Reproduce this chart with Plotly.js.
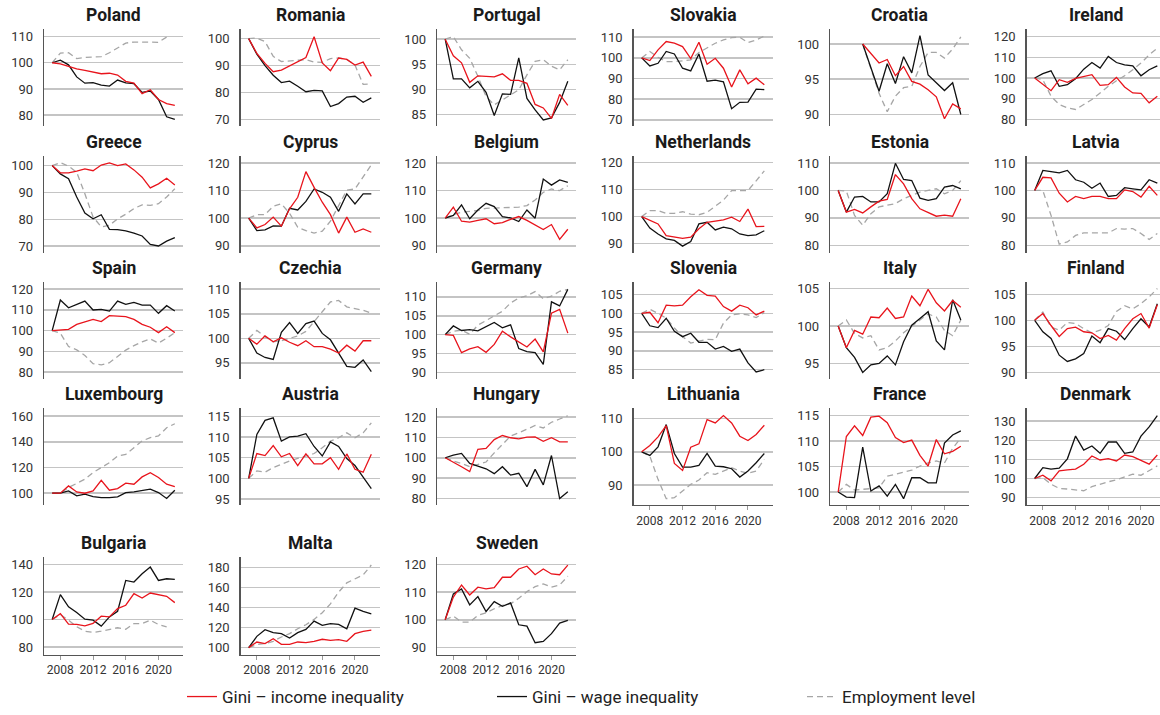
<!DOCTYPE html>
<html><head><meta charset="utf-8">
<script src="https://cdn.plot.ly/plotly-3.0.1.min.js"></script>
<style>html,body{margin:0;padding:0;background:#fff}#chart{width:1160px;height:715px}</style>
</head><body><div id="chart"></div>
<script>
const years = [2007,2008,2009,2010,2011,2012,2013,2014,2015,2016,2017,2018,2019,2020,2021,2022];
const countries = ["Poland","Romania","Portugal","Slovakia","Croatia","Ireland",
  "Greece","Cyprus","Belgium","Netherlands","Estonia","Latvia",
  "Spain","Czechia","Germany","Slovenia","Italy","Finland",
  "Luxembourg","Austria","Hungary","Lithuania","France","Denmark",
  "Bulgaria","Malta","Sweden"];
const seriesNames = ["Gini \u2013 income inequality","Gini \u2013 wage inequality","Employment level"];
const xTickVals = [2008,2012,2016,2020];

const poland_income = [100,99.6,98.6,97.7,97.1,96.5,95.8,96,95.3,92.9,92.2,88.2,89.7,86,84.4,83.7];
const poland_wage = [100,101,99.2,94.6,92.2,92.4,91.5,91.1,93.4,92.3,92,88.7,89.2,86,79.4,78.4];
const poland_emp = [100,103.7,103.8,101.6,102,102.2,102.3,103.8,105.6,107.5,107.9,107.8,107.8,107.8,109.8,null];

const romania_income = [100,94.5,90.8,87.7,88.3,89.8,91.3,93,100.7,91,88.1,92.8,92.3,90.2,91.3,86];
const romania_wage = [100,94.2,90,86.4,83.7,84.2,82.3,80.3,80.8,80.6,74.8,75.9,78.3,78.6,76.4,78];
const romania_emp = [100,100.2,98.9,93.4,91.5,91.8,92,92.2,91.3,91.2,92.6,92.8,92.3,90.2,83,83.2];

const portugal_income = [100,96.7,95.3,91.4,92.7,92.6,92.5,93.1,91.8,91.8,91.2,87,86.3,84.2,89,86.8];
const portugal_wage = [100,92.1,92.1,90.3,91.6,89.4,84.8,89.1,89,96.3,88.2,85.9,83.9,84.3,87.4,91.6];
const portugal_emp = [100,100.5,97.9,96.2,92.6,88.6,86.9,87.9,88.9,89.9,92.9,95.6,95.9,94.6,93.9,95.9];

const slovakia_income = [100,98.7,103.9,107.9,107.1,105.5,99.7,107.6,96.9,99.8,95,85.9,94.2,87.5,90.2,87];
const slovakia_wage = [100,96.1,97.4,103.1,101.9,95,93.7,101.9,88.7,89.2,88.4,75.4,78.5,78.6,84.9,84.6];
const slovakia_emp = [100,103.1,100.3,98.2,98.2,98.6,99,102.6,104.7,107.1,108.7,109.8,110,107.4,108.7,110.6];

const croatia_income = [null,null,null,100,98.6,97.3,97.8,95.5,96.8,94.7,94.3,93.5,92.5,89.4,91.5,90.8];
const croatia_wage = [null,null,null,100,96.6,93.3,97.2,94.4,98.2,95.9,101.2,95.6,94.5,93.4,94.5,90];
const croatia_emp = [null,null,null,100,96.5,93,90.4,92.6,93.8,94,96.8,98.8,98.8,98,99.3,101];

const ireland_income = [100,96.8,93.9,99.2,97.9,99.8,100.8,101.6,96.5,96.8,100.3,95.7,92.8,92.6,88,91.2];
const ireland_wage = [100,102.1,103.5,96,96.8,99.7,104.3,107.5,104.8,110.4,107.5,106.4,105.9,101.1,104,105.9];
const ireland_emp = [100,99.2,91.2,87.2,85.6,84.8,87.2,89.6,92.8,96,98.7,101.1,104,107.2,111.2,114.4];

const greece_income = [100,97.3,97.3,97.9,98.8,98.1,100.2,101,100,100.6,98.4,95.7,91.7,93.2,95.3,92.8];
const greece_wage = [100,96.9,95.1,88.3,82.3,80.2,81.7,76.3,76.2,75.7,74.9,73.8,70.7,70.1,71.9,73.2];
const greece_emp = [100,101.1,99.8,97.5,89.5,80.9,77.2,77.8,80.2,81.9,84,85.4,85.2,85.8,88.3,91.4];

const cyprus_income = [100,96.5,97.7,100.4,97.1,103.4,107.6,116.9,111.2,105.8,101.3,94.6,100.4,94.9,96.1,94.9];
const cyprus_wage = [100,95.5,95.8,97.2,97.1,103.6,103,106.1,110.6,109.4,107.6,102.5,108.8,105.2,108.8,108.8];
const cyprus_emp = [100,101.3,101.3,104.3,105.2,101.8,96.7,95.5,94.6,95.3,98.9,104.6,110.2,110.6,114.8,119.4];

const belgium_income = [100,104,98.9,98.6,99.2,99.8,98,98.4,99.6,100.6,99.2,97.7,95.9,97.7,92.3,96];
const belgium_wage = [100,101,104.8,99.8,103,105.4,104.2,100.6,100.1,98.8,103,100,114.2,112,113.9,113];
const belgium_emp = [100,101.3,102.2,102.5,102.8,103.6,103.7,103.7,104,104,104.6,106.6,109.4,110.6,110,111.8];

const netherlands_income = [100,98.8,97.3,93,92.6,92,92.4,95.5,97.9,98.3,98.8,99.8,98.2,102.8,96.3,96.4];
const netherlands_wage = [100,95.8,93.6,91.8,91.2,89.1,90.8,97.3,97.9,95.1,96.1,95.5,93.6,93,93.3,94.8];
const netherlands_emp = [100,102.2,102.2,101.2,101.2,101.8,100.9,100.7,101.6,103.7,106.1,109.6,109.6,109.6,113.2,116.9];

const estonia_income = [100,92.1,93.1,91.8,94,96.1,96.7,105.8,102.4,97,93.3,91.8,90.6,91,90.6,97];
const estonia_wage = [100,92.1,97.6,97.8,95.8,95.8,98.8,109.9,104,103.6,97.2,96.4,97,101.2,101.8,100.6];
const estonia_emp = [100,99.8,90.9,87.3,91.5,94,94.6,95.2,97,98.2,99.4,100,100.6,98.8,100,103.6];

const latvia_income = [100,104.8,104.6,99,95.8,97.8,97,97.8,97.8,97,97,100.2,99.6,97.6,101.5,98.2];
const latvia_wage = [100,107.3,106.9,106.4,107.3,103.9,103,100.8,102.7,97.8,98.2,101,100.6,100.2,103.9,102.7];
const latvia_emp = [100,100,90.9,80.4,81.2,83.6,84.5,84.5,84.3,84.5,86.1,85.9,86.1,84.3,82.1,84.3];

const spain_income = [100,100.3,100.6,103,104.3,105.4,104.3,107.2,107,106.7,105.4,103,101.6,99,101.8,99];
const spain_wage = [100,114.7,111,112.6,114.2,109.9,110.2,109.4,114.2,112.6,113.6,112.3,112.3,108.3,112,109.4];
const spain_emp = [100,98.7,92.3,90.7,88,84,83.5,84.5,87.5,90.6,92.7,94.6,96,94,96.3,99];

const czechia_income = [100,98.8,100.5,99.3,100.1,99.2,98.5,99.5,98.3,98.3,97.8,97,98.6,97.4,99.5,99.5];
const czechia_wage = [100,97,96.1,95.7,101.2,103.2,101,103,103.5,101,99.7,97,94.3,94.1,95.6,93.2];
const czechia_emp = [100,101.6,100.3,99.3,99.5,100,100.5,101.4,103.5,105.4,107.4,107.7,106.4,106.1,105.7,105.1];

const germany_income = [100,99.8,95.2,96.2,96.8,95.3,97.4,100.9,99.4,98.1,96.7,98.8,95.4,105.7,106.7,100.4];
const germany_wage = [100,102.3,101.1,101.3,101,102,103.2,101.8,102.6,96.3,95.5,95.2,92.1,108.7,107.6,112];
const germany_emp = [100,100.9,101.2,100.1,102.5,103.7,104.9,106.2,108.4,109.7,110.3,111.4,109.5,110.2,111.5,112];

const slovenia_income = [100,100.3,97.5,102.2,102,102.2,104.4,106.3,104.8,104.6,101.8,100.6,102.2,101.5,99.6,100.6];
const slovenia_wage = [100,96.7,96.2,98.7,95.2,93.8,94.7,92.3,92.3,90.5,91.2,89.9,90.5,86.8,84.4,85];
const slovenia_emp = [100,101.1,100,98.7,96.1,93.8,92.1,92.7,93.1,93,97.4,99.6,99.9,99.6,98.9,100.2];

const italy_income = [100,97.1,99.4,98.9,101.2,101.1,102.4,101,101.2,104,102.7,104.9,103.1,102,103.4,102.5];
const italy_wage = [100,97.1,95.8,93.8,94.8,95,96,94.8,97.9,100.1,101,101.9,98,96.8,103.5,100.8];
const italy_emp = [100,100.8,99,98.4,98.7,96.8,97.1,98,99.1,100,100.8,101.6,101.2,99.4,98.7,100.8];

const finland_income = [100,101.3,99,96.9,98.4,98.7,97.8,97.6,96.5,97.1,96.2,98.4,100.3,101.3,98.5,103];
const finland_wage = [100,97.8,96.5,93.3,92.1,92.6,93.6,97,95.7,98.4,97.9,96.3,98.4,100.3,98.7,103.2];
const finland_emp = [100,101.6,98.7,98.1,99.6,99.4,98.4,97.6,98.1,99,101.7,102.8,102.2,103.2,104.5,106.1];

const luxembourg_income = [100,100,105.7,101,100,101.8,110.1,102.3,103.6,107.8,107,112.7,116,112.2,107,105.2];
const luxembourg_wage = [100,100,101.8,97.9,99.2,97.4,96.6,96.6,97.2,100.5,101,101.8,103.1,100.5,95.9,102.3];
const luxembourg_emp = [100,100,104.4,107.8,110.9,116.1,120,123.8,129,130.3,135.5,140.7,143.3,144.6,151,154.1];

const austria_income = [100,106,105.5,107.9,105.2,106,103.1,105.9,103.5,103.5,105,102.2,105.9,102.2,101.5,105.8];
const austria_wage = [100,110.6,114,114.6,109,110,110.2,110.8,107.7,105.4,108.8,107.7,104.8,103.1,100.3,97.5];
const austria_emp = [100,101.8,101.5,102.6,103.4,104.2,104.8,105.4,106,107.4,109,109.8,111,109.8,111,113.4];

const hungary_income = [100,97.9,95.6,93.2,104.1,104.6,108.9,110.9,109.8,109.3,110.1,110.2,108.1,109.8,107.8,107.8];
const hungary_wage = [100,101.3,102.1,97.2,95.9,94.6,92.2,95.6,91.5,92.4,85.8,94.3,86.7,101.1,80,83.3];
const hungary_emp = [100,98.4,97.2,95.6,96.7,97.9,102.4,106.5,110.6,112.2,114.1,115.8,114.6,117.4,119,120.6];

const lithuania_income = [100,101.9,104.5,107.9,96.5,94.4,101.4,102.4,109.7,108.7,110.9,108.7,104.7,103.4,105.2,108];
const lithuania_wage = [100,98.9,101.5,108.2,99.5,95.4,95.4,95.9,99.5,95.7,95.5,94.9,92.4,94.2,96.7,99.5];
const lithuania_emp = [100,98.7,91.7,85.9,86.2,88.2,90.2,91.5,93.7,93.2,94.2,95.2,94.2,93.5,94.2,97.7];

const france_income = [100,110.9,113,111.1,114.7,114.9,113.6,110.7,109.7,110.2,107.2,105.1,110.3,107.5,108,109];
const france_wage = [100,99,98.9,108.8,100.2,101.2,99.2,101.5,98.7,102.8,102.8,101.8,101.8,109.6,111.2,112];
const france_emp = [100,101.5,100.4,100.5,100.7,100.8,103.1,103.5,103.8,104.3,105.1,105.7,106.1,105.7,108.6,110.6];

const denmark_income = [100,101.7,98.8,104,104.5,104.9,107.5,111.8,109.7,110.4,109.2,112.3,111.4,109.5,107.5,112.3];
const denmark_wage = [100,105.7,104.9,105.4,110.3,122.2,114.9,117,113.2,119.1,119.1,113.2,113.9,122.2,127,132.9];
const denmark_emp = [100,100.5,97,94.8,94.5,93.9,93.6,95.7,97.1,98.3,99.3,100.9,102.3,101.7,104,106.6];

const bulgaria_income = [100,104.3,96.6,96.4,95.4,97.1,102.4,101.9,108,110.4,118.8,115.7,119.3,118.1,116.9,112.3];
const bulgaria_wage = [100,118.1,109.2,105.1,100.2,99.5,95.2,101.9,106,128.5,127.3,133.3,138.2,128.5,129.7,129.2];
const bulgaria_emp = [100,103.6,99.5,94.7,91.5,90.6,91.5,93,94,92.9,97,97,99.5,96.4,94.7,null];

const malta_income = [100,105.6,104,108.9,103.3,103.3,105.6,105,106.3,108.3,107.3,108,106.3,113.9,116.2,117.5];
const malta_wage = [100,111.2,117.9,114.9,113.9,109.6,114.9,118.2,126.4,122.1,123.8,123.1,118.8,139.3,136,133.7];
const malta_emp = [100,103,104,106.3,110.6,113.9,118.8,122.8,128.1,134.7,143.6,155.2,164.5,168.4,172.4,182.3];

const sweden_income = [100,108.2,112.6,109,111.8,111.2,111.6,115.4,115.4,118.4,119.4,116.3,118.4,116.6,116.3,119.8];
const sweden_wage = [100,109.4,111.2,105.4,108.4,103,106.6,104.9,106.1,98.2,97.7,91.7,92.2,95,98.8,99.8];
const sweden_emp = [100,101.3,99.2,99.2,101.6,102.5,104,105.2,105.8,107.8,110.2,112,113,111.8,112.6,115.8];

const seriesByCountry = {
  Poland:[poland_income,poland_wage,poland_emp], Romania:[romania_income,romania_wage,romania_emp],
  Portugal:[portugal_income,portugal_wage,portugal_emp], Slovakia:[slovakia_income,slovakia_wage,slovakia_emp],
  Croatia:[croatia_income,croatia_wage,croatia_emp], Ireland:[ireland_income,ireland_wage,ireland_emp],
  Greece:[greece_income,greece_wage,greece_emp], Cyprus:[cyprus_income,cyprus_wage,cyprus_emp],
  Belgium:[belgium_income,belgium_wage,belgium_emp], Netherlands:[netherlands_income,netherlands_wage,netherlands_emp],
  Estonia:[estonia_income,estonia_wage,estonia_emp], Latvia:[latvia_income,latvia_wage,latvia_emp],
  Spain:[spain_income,spain_wage,spain_emp], Czechia:[czechia_income,czechia_wage,czechia_emp],
  Germany:[germany_income,germany_wage,germany_emp], Slovenia:[slovenia_income,slovenia_wage,slovenia_emp],
  Italy:[italy_income,italy_wage,italy_emp], Finland:[finland_income,finland_wage,finland_emp],
  Luxembourg:[luxembourg_income,luxembourg_wage,luxembourg_emp], Austria:[austria_income,austria_wage,austria_emp],
  Hungary:[hungary_income,hungary_wage,hungary_emp], Lithuania:[lithuania_income,lithuania_wage,lithuania_emp],
  France:[france_income,france_wage,france_emp], Denmark:[denmark_income,denmark_wage,denmark_emp],
  Bulgaria:[bulgaria_income,bulgaria_wage,bulgaria_emp], Malta:[malta_income,malta_wage,malta_emp],
  Sweden:[sweden_income,sweden_wage,sweden_emp]
};

// ---- layout settings (view ranges and tick steps per panel) ----
const yView = {
  Poland:[75.7,112.8,10], Romania:[67.4,103.5,10], Portugal:[82.6,102,5], Slovakia:[66.8,113.9,10],
  Croatia:[88.3,102.1,5], Ireland:[76.6,123.6,10], Greece:[67.5,103.7,10], Cyprus:[87.4,122.7,10],
  Belgium:[87.4,122.7,10], Netherlands:[86.6,122.5,10], Estonia:[77.2,112.7,10], Latvia:[77.2,112.7,10],
  Spain:[76.6,123.5,10], Czechia:[91.7,111.5,5], Germany:[88.2,114,5], Slovenia:[82.5,108.4,5],
  Italy:[92.9,105.9,5], Finland:[88.7,107.4,5], Luxembourg:[90.6,166.4,20], Austria:[93.5,117,5],
  Hungary:[76.7,124.4,10], Lithuania:[83.9,113.2,10], France:[97.4,116.5,5], Denmark:[86,136.9,10],
  Bulgaria:[74.4,145.3,20], Malta:[93,189.9,20], Sweden:[87.4,122.6,10]
};
const xTickPanels = ["Lithuania","France","Denmark","Bulgaria","Malta","Sweden"];

const W = 1160, H = 715;
const colLeft = [44, 240.5, 437, 633.5, 830, 1026.5];
const plotW = 139;
const rowTop = [29.3, 156.3, 283, 409.7, 559.7];
const plotH = 97.7;
const styles = [
  {color:'#e8141c', width:1.3, dash:'solid'},
  {color:'#111111', width:1.3, dash:'solid'},
  {color:'#a6a6a6', width:1.3, dash:'6px,4px'}
];
const FONT = 'Roboto, "Open Sans", sans-serif';

const traces = [];
const layout = {
  width: W, height: H, margin:{l:0,r:0,t:0,b:0},
  paper_bgcolor:'#fff', plot_bgcolor:'rgba(0,0,0,0)',
  showlegend:true, annotations:[],
  font:{family:FONT, color:'#222'},
  legend:{orientation:'h', x:182/W, xanchor:'left', y:1-700/H, yanchor:'middle',
    traceorder:'reversed', font:{family:FONT, size:17, color:'#222'},
    entrywidth:265, entrywidthmode:'pixels', bgcolor:'rgba(0,0,0,0)'}
};

countries.forEach((c, i) => {
  const r = Math.floor(i/6), col = i%6;
  const n = i + 1;
  const xs = n === 1 ? '' : String(n);
  const x0 = colLeft[col];
  const x1 = Math.min(x0 + plotW, W);
  const xEnd = 2006 + (x1 - x0) / plotW * 17;
  const top = rowTop[r];
  const hasX = xTickPanels.includes(c);
  const v = yView[c];
  layout['xaxis' + xs] = {
    domain:[x0/W, x1/W], anchor:'y' + xs, range:[2006, xEnd],
    showgrid:false, zeroline:false, showline:hasX, linecolor:'#555', linewidth:1.2,
    ticks: hasX ? 'outside' : '', ticklen:4, tickcolor:'#999', tickwidth:1,
    tickvals:xTickVals, showticklabels:hasX,
    tickfont:{family:FONT, size:12, color:'#333'}, fixedrange:true
  };
  layout['yaxis' + xs] = {
    domain:[1 - (top + plotH)/H, 1 - top/H], anchor:'x' + xs,
    range:[v[0], v[1]], dtick:v[2], tick0:0,
    showgrid:true, gridcolor:'#c4c4c4', gridwidth:1.5, zeroline:false,
    showline:true, linecolor:'#555', linewidth:1.3, ticks:'',
    ticklabelstandoff:7, tickfont:{family:FONT, size:13, color:'#333'}, fixedrange:true
  };
  layout.annotations.push({
    text:'<b>' + c + '</b>', xref:'paper', yref:'paper',
    x:(x0 + plotW/2)/W, y:1 - (top - 14)/H, xanchor:'center', yanchor:'middle',
    showarrow:false, font:{family:FONT, size:17.5, color:'#1a1a1a'}
  });
  const s = seriesByCountry[c];
  [2,1,0].forEach(k => {
    traces.push({
      type:'scatter', mode:'lines', x:years, y:s[k], xaxis:'x' + xs, yaxis:'y' + xs,
      name:seriesNames[k], legendgroup:'g' + k, showlegend:i === 0,
      line:{color:styles[k].color, width:styles[k].width, dash:styles[k].dash},
      connectgaps:false, hoverinfo:'skip'
    });
  });
});

Plotly.newPlot('chart', traces, layout, {staticPlot:true, displayModeBar:false});
</script>
</body></html>
